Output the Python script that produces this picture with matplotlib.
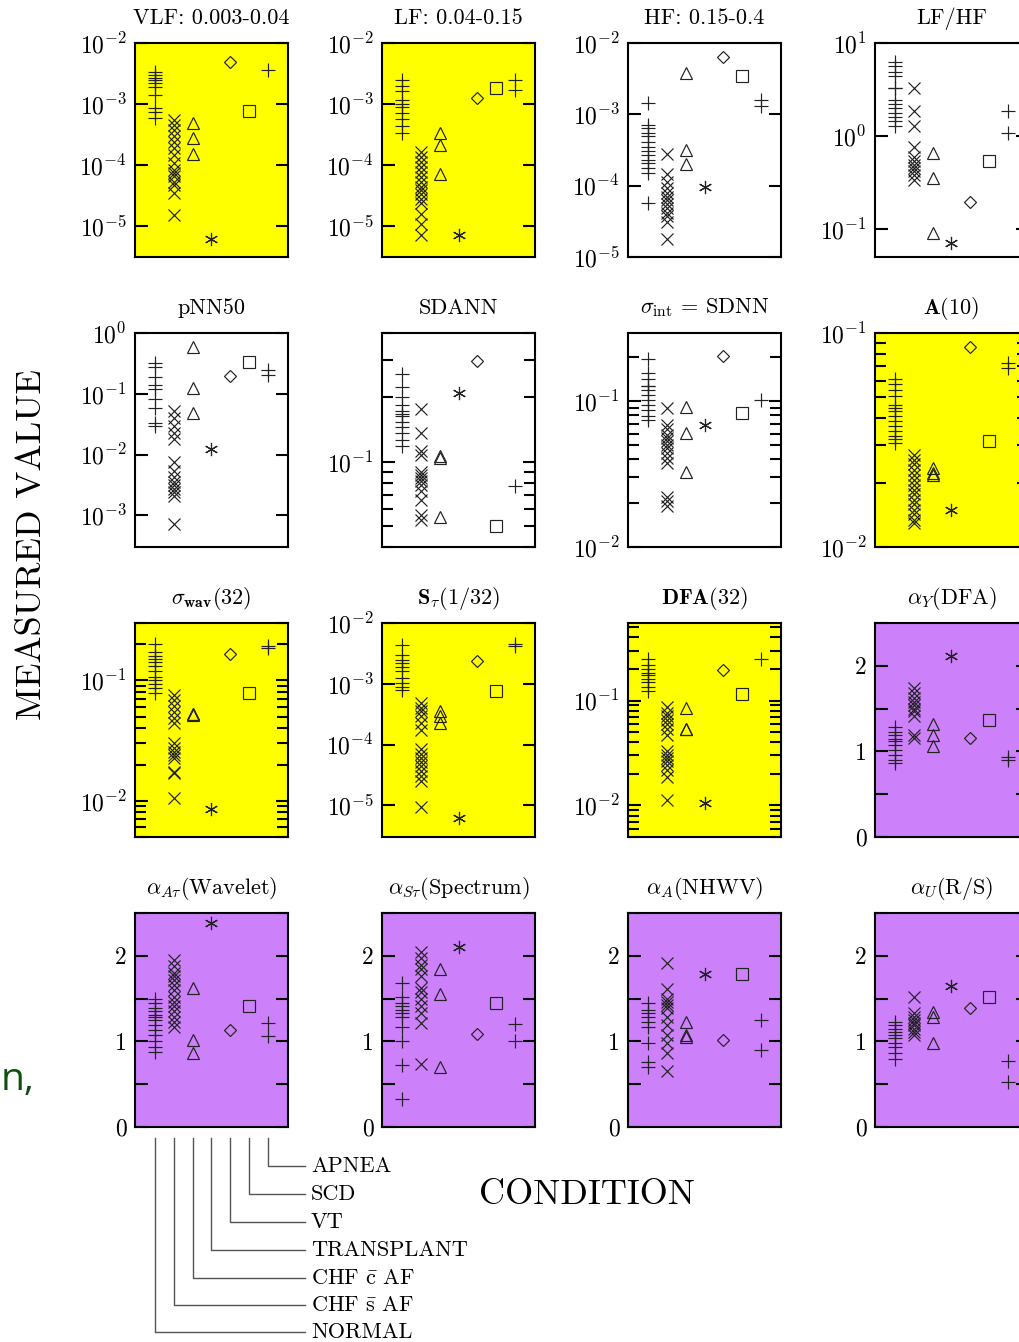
import matplotlib
matplotlib.use("Agg")
import matplotlib.pyplot as plt
import matplotlib.ticker as mticker
from matplotlib.lines import Line2D
import numpy as np

plt.rcParams["font.family"] = ["cmr10", "DejaVu Serif"]
plt.rcParams["mathtext.fontset"] = "cm"
plt.rcParams["axes.formatter.use_mathtext"] = True

# conditions, in plotting order (x = 1..7)
CONDITIONS = ["NORMAL", r"CHF $\bar{\rm s}$ AF", r"CHF $\bar{\rm c}$ AF",
              "TRANSPLANT", "VT", "SCD", "APNEA"]

# values, one list per condition
vlf = [
    [3.4e-3, 3.0e-3, 2.7e-3, 2.5e-3, 2.2e-3, 1.9e-3, 1.4e-3, 8.5e-4, 7.5e-4, 6.0e-4],
    [5.5e-4, 4.5e-4, 3.7e-4, 3.0e-4, 2.4e-4, 1.9e-4, 1.46e-4, 1.06e-4, 8.3e-5, 7.3e-5,
     6.5e-5, 5.3e-5, 4.7e-5, 3.5e-5, 1.5e-5],
    [4.8e-4, 2.8e-4, 1.5e-4],
    [6.2e-6],
    [4.9e-3],
    [7.7e-4],
    [3.6e-3],
]
lf = [
    [2.5e-3, 2.0e-3, 1.66e-3, 1.16e-3, 9.9e-4, 8.8e-4, 7.2e-4, 5.6e-4, 4.4e-4, 3.4e-4],
    [1.66e-4, 1.37e-4, 1.13e-4, 9.4e-5, 7.8e-5, 6.4e-5, 5.3e-5, 4.4e-5, 3.9e-5, 3.3e-5,
     2.8e-5, 2.4e-5, 1.6e-5, 1.08e-5, 7.1e-6],
    [3.4e-4, 2.1e-4, 7.1e-5],
    [7.0e-6],
    [1.27e-3],
    [1.85e-3],
    [2.5e-3, 1.7e-3],
]
hf = [
    [1.43e-3, 7.1e-4, 6.4e-4, 5.5e-4, 4.9e-4, 4.1e-4, 3.5e-4, 3.1e-4, 2.7e-4, 2.3e-4,
     2.06e-4, 1.75e-4, 1.49e-4, 5.7e-5],
    [2.8e-4, 1.46e-4, 1.14e-4, 9.2e-5, 8.0e-5, 7.0e-5, 6.3e-5, 5.5e-5, 4.8e-5, 4.2e-5,
     3.7e-5, 3.1e-5, 1.8e-5],
    [3.8e-3, 3.2e-4, 2.0e-4],
    [9.7e-5],
    [6.3e-3],
    [3.4e-3],
    [1.6e-3, 1.3e-3],
]
lf_hf = [
    [6.3, 5.6, 4.9, 4.4, 3.27, 3.27, 2.45, 2.2, 2.0, 1.76, 1.6, 1.44, 1.27],
    [3.27, 1.88, 1.27, 0.77, 0.6, 0.54, 0.49, 0.45, 0.42, 0.385, 0.34],
    [0.65, 0.35, 0.091],
    [0.071],
    [0.196],
    [0.536],
    [1.87, 1.08],
]
pnn50 = [
    [0.32, 0.28, 0.19, 0.137, 0.118, 0.081, 0.059, 0.0335, 0.0295],
    [0.052, 0.040, 0.0295, 0.023, 0.0178, 0.0074, 0.0054, 0.0042, 0.0035, 0.0031,
     0.0027, 0.0024, 0.0021, 0.00072],
    [0.59, 0.124, 0.048],
    [0.0122],
    [0.195],
    [0.33],
    [0.25, 0.2],
]
sdann = [
    [0.258, 0.223, 0.2, 0.185, 0.172, 0.168, 0.163, 0.154, 0.145, 0.136, 0.127, 0.118],
    [0.176, 0.136, 0.112, 0.108, 0.090, 0.087, 0.084, 0.081, 0.078, 0.073, 0.066,
     0.0565, 0.0536],
    [0.106, 0.104, 0.0551],
    [0.209],
    [0.296],
    [0.0499],
    [0.0773],
]
sdnn = [
    [0.195, 0.157, 0.141, 0.128, 0.128, 0.120, 0.111, 0.1026, 0.0949, 0.0877, 0.0789, 0.0741],
    [0.090, 0.069, 0.064, 0.059, 0.056, 0.053, 0.050, 0.048, 0.044, 0.041, 0.0377,
     0.022, 0.0206, 0.0192],
    [0.091, 0.0607, 0.0327],
    [0.069],
    [0.204],
    [0.083],
    [0.1026],
]
a10 = [
    [0.061, 0.058, 0.0543, 0.0506, 0.0463, 0.0447, 0.043, 0.0411, 0.0386, 0.0366,
     0.0347, 0.0329, 0.0318, 0.0306],
    [0.027, 0.0256, 0.0243, 0.023, 0.0218, 0.0206, 0.0195, 0.0185, 0.0176, 0.0166,
     0.0158, 0.0149, 0.0142, 0.0134, 0.013],
    [0.0234, 0.0222, 0.0218],
    [0.0149],
    [0.086],
    [0.0312],
    [0.0724, 0.0686],
]
sigma_wav = [
    [0.2, 0.173, 0.159, 0.150, 0.143, 0.132, 0.120, 0.107, 0.1, 0.093, 0.086, 0.078],
    [0.0755, 0.0687, 0.0612, 0.055, 0.0483, 0.044, 0.030, 0.0272, 0.0255, 0.024,
     0.0225, 0.0174, 0.0169, 0.0105],
    [0.053, 0.0525, 0.052],
    [0.0085],
    [0.166],
    [0.079],
    [0.193, 0.187],
]
s_tau = [
    [4.4e-3, 3.0e-3, 2.5e-3, 2.2e-3, 1.9e-3, 1.6e-3, 1.24e-3, 1.03e-3, 9.0e-4, 8.0e-4],
    [4.8e-4, 4.0e-4, 3.5e-4, 2.9e-4, 2.3e-4, 1.76e-4, 8.3e-5, 6.9e-5, 6.0e-5, 5.1e-5,
     4.4e-5, 3.7e-5, 3.0e-5, 2.5e-5, 9.2e-6],
    [3.5e-4, 2.9e-4, 2.3e-4],
    [6.1e-6],
    [2.4e-3],
    [7.5e-4],
    [4.6e-3, 4.2e-3],
]
dfa32 = [
    [0.248, 0.218, 0.202, 0.184, 0.175, 0.162, 0.15, 0.135, 0.123],
    [0.0875, 0.077, 0.0716, 0.065, 0.0594, 0.0532, 0.0469, 0.0328, 0.0305, 0.0283,
     0.0263, 0.0244, 0.0218, 0.0188, 0.0112],
    [0.085, 0.0532, 0.0532],
    [0.0106],
    [0.198],
    [0.116],
    [0.249],
]
alpha_dfa = [
    [1.29, 1.23, 1.19, 1.15, 1.12, 1.08, 1.02, 0.96, 0.90, 0.86],
    [1.74, 1.68, 1.62, 1.58, 1.54, 1.50, 1.47, 1.41, 1.19, 1.16],
    [1.32, 1.19, 1.06],
    [2.12],
    [1.16],
    [1.37],
    [0.94, 0.90],
]
alpha_wavelet = [
    [1.50, 1.45, 1.39, 1.35, 1.31, 1.29, 1.25, 1.19, 1.13, 1.07, 1.00, 0.94, 0.88],
    [1.95, 1.88, 1.80, 1.76, 1.72, 1.66, 1.60, 1.52, 1.46, 1.41, 1.35, 1.29, 1.23, 1.17],
    [1.62, 1.02, 0.86],
    [2.38],
    [1.13],
    [1.41],
    [1.22, 1.06],
]
alpha_spectrum = [
    [1.68, 1.52, 1.45, 1.41, 1.37, 1.33, 1.29, 1.17, 1.00, 0.72, 0.33],
    [2.05, 1.97, 1.89, 1.84, 1.76, 1.62, 1.58, 1.50, 1.41, 1.33, 1.21, 0.74],
    [1.84, 1.55, 0.70],
    [2.10],
    [1.09],
    [1.45],
    [1.20, 1.01],
]
alpha_nhwv = [
    [1.45, 1.37, 1.33, 1.29, 1.23, 1.17, 0.98, 0.76, 0.70],
    [1.92, 1.61, 1.50, 1.46, 1.43, 1.39, 1.29, 1.19, 1.07, 0.98, 0.86, 0.66],
    [1.23, 1.07, 1.05],
    [1.79],
    [1.02],
    [1.79],
    [1.25, 0.90],
]
alpha_rs = [
    [1.23, 1.19, 1.15, 1.11, 1.07, 1.04, 0.98, 0.93, 0.86, 0.80],
    [1.52, 1.33, 1.29, 1.25, 1.22, 1.19, 1.15, 1.11, 1.07],
    [1.34, 1.28, 0.98],
    [1.65],
    [1.39],
    [1.52],
    [0.77, 0.53],
]

TITLES = [
    "VLF: 0.003-0.04", "LF: 0.04-0.15", "HF: 0.15-0.4", "LF/HF",
    "pNN50", "SDANN", r"$\sigma_{\rm int}$ = SDNN", r"$\mathbf{A(10)}$",
    r"$\sigma_{\mathbf{wav}}\mathbf{(32)}$", r"$\mathbf{S}_{\tau}\mathbf{(1/32)}$",
    r"$\mathbf{DFA(32)}$", r"$\alpha_Y$(DFA)",
    r"$\alpha_{A\tau}$(Wavelet)", r"$\alpha_{S\tau}$(Spectrum)",
    r"$\alpha_A$(NHWV)", r"$\alpha_U$(R/S)",
]
PANEL_DATA = [vlf, lf, hf, lf_hf, pnn50, sdann, sdnn, a10,
              sigma_wav, s_tau, dfa32, alpha_dfa,
              alpha_wavelet, alpha_spectrum, alpha_nhwv, alpha_rs]
YLIMS = [
    (3.1e-6, 1.001e-2), (3.1e-6, 1.001e-2), (0.999e-5, 1.001e-2), (0.05, 10.01),
    (3.0e-4, 1.001), (0.04, 0.4), (0.00999, 0.294), (0.00999, 0.1001),
    (0.005, 0.3), (3.0e-6, 1.001e-2), (0.005, 0.55), (0, 2.5),
    (0, 2.5), (0, 2.5), (0, 2.5), (0, 2.5),
]

YELLOW, WHITE, PURPLE = "#ffff00", "#ffffff", "#cc80fa"
FACES = [YELLOW, YELLOW, WHITE, WHITE,
         WHITE, WHITE, WHITE, YELLOW,
         YELLOW, YELLOW, YELLOW, PURPLE,
         PURPLE, PURPLE, PURPLE, PURPLE]
MINOR = [False, False, False, False,
         False, True, True, True,
         True, False, True, False,
         False, False, False, False]

INK = "#222222"
MARKERS = [("+", 10), ("x", 9), ("^", 9), ((6, 2, 0), 9.5), ("D", 6.5), ("s", 9), ("+", 10)]

W, H = 1020, 1342
fig = plt.figure(figsize=(W / 100, H / 100), dpi=100)
col_left = [135, 382, 628, 875]
row_top = [43, 333, 623, 913]
pw, ph = 153, 214

axes = []
for k, data in enumerate(PANEL_DATA):
    r, c = divmod(k, 4)
    ax = fig.add_axes([col_left[c] / W, 1 - (row_top[r] + ph) / H, pw / W, ph / H])
    axes.append(ax)
    ax.set_facecolor(FACES[k])
    linear = YLIMS[k][0] == 0
    if not linear:
        ax.set_yscale("log")

    for i, vals in enumerate(data):
        m, ms = MARKERS[i]
        ax.plot(np.full(len(vals), i + 1), vals, linestyle="none", marker=m, ms=ms,
                mfc="none", mec=INK, mew=0.85)

    ax.set_xlim(-0.05, 8.05)
    ax.set_ylim(*YLIMS[k])
    ax.set_xticks([])

    if linear:
        ax.yaxis.set_major_locator(mticker.MultipleLocator(0.5))
        ax.yaxis.set_major_formatter(mticker.FuncFormatter(
            lambda v, p: f"{v:.0f}" if abs(v - round(v)) < 1e-6 else ""))
    else:
        ax.yaxis.set_major_locator(mticker.LogLocator(base=10, numticks=20))
        ax.yaxis.set_major_formatter(mticker.LogFormatterMathtext())
        if MINOR[k]:
            ax.yaxis.set_minor_locator(mticker.LogLocator(base=10, subs=np.arange(2, 10), numticks=20))
        else:
            ax.yaxis.set_minor_locator(mticker.NullLocator())
        ax.yaxis.set_minor_formatter(mticker.NullFormatter())

    ax.tick_params(axis="y", which="both", direction="in", left=True, right=True,
                   width=1.5, labelsize=17, pad=6)
    ax.tick_params(axis="y", which="major", length=9)
    ax.tick_params(axis="y", which="minor", length=8)
    for sp in ax.spines.values():
        sp.set_linewidth(1.5)
    ax.set_title(TITLES[k], fontsize=16, pad=14)

# axis captions
fig.text(32 / W, 1 - 545 / H, "MEASURED VALUE", rotation=90, fontsize=26,
         ha="center", va="center")
fig.text(587 / W, 1 - 1195 / H, "CONDITION", fontsize=26, ha="center", va="center")

# condition key: leader lines from each x position of the bottom-left panel
ax0 = axes[12]
line_top = 1138
row_y = [1332, 1305, 1278, 1250, 1222, 1194, 1166]   # NORMAL ... APNEA
text_x = 311
for i, label in enumerate(CONDITIONS):
    xpix = ax0.transData.transform((i + 1, 1))[0]
    xf = xpix / fig.bbox.width
    yr = 1 - row_y[i] / H
    fig.add_artist(Line2D([xf, xf, (text_x - 6) / W], [1 - line_top / H, yr, yr],
                          transform=fig.transFigure, color="#555555", lw=1))
    fig.text(text_x / W, yr, label, fontsize=16, ha="left", va="center")

# stray caption fragment on the left edge
fig.text(0.001, 1 - 1080 / H, "n,", color="#10500f", fontsize=28,
         family="Open Sans", ha="left", va="center")

fig.savefig("out.png", dpi=100)
